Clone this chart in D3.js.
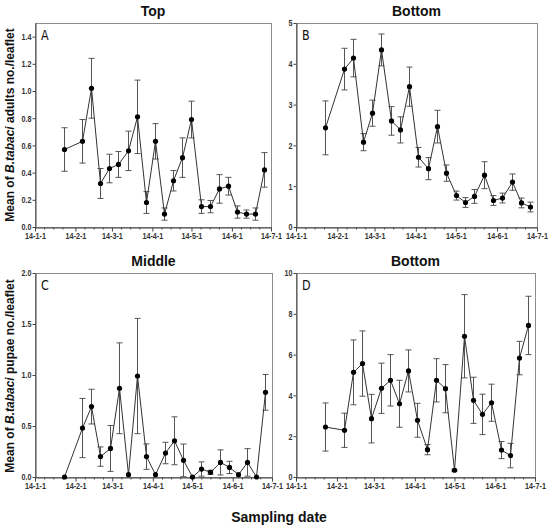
<!DOCTYPE html>
<html>
<head>
<meta charset="utf-8">
<script src="https://cdn.jsdelivr.net/npm/d3@7"></script>
<style>
  body { margin: 0; background: #fff; }
  svg { display: block; }
</style>
</head>
<body>
<div id="chart"></div>
<script>
// sampling dates (same for all four panels)
var sampleDates = ["2014-01-23", "2014-02-06", "2014-02-13", "2014-02-20", "2014-02-27",
  "2014-03-06", "2014-03-13", "2014-03-20", "2014-03-27", "2014-04-03", "2014-04-10",
  "2014-04-17", "2014-04-24", "2014-05-01", "2014-05-08", "2014-05-15", "2014-05-22",
  "2014-05-29", "2014-06-05", "2014-06-12", "2014-06-19", "2014-06-26"];

var monthTicks = ["2014-01-01", "2014-02-01", "2014-03-01", "2014-04-01",
  "2014-05-01", "2014-06-01", "2014-07-01"];
var monthLabels = ["14-1-1", "14-2-1", "14-3-1", "14-4-1", "14-5-1", "14-6-1", "14-7-1"];

// A: adults, top
var adultsTop = [0.57, 0.63, 1.02, 0.32, 0.43, 0.46, 0.56, 0.81, 0.18, 0.63, 0.095,
  0.34, 0.51, 0.79, 0.15, 0.15, 0.28, 0.30, 0.11, 0.095, 0.095, 0.42];
var adultsTopErr = [0.16, 0.16, 0.22, 0.11, 0.105, 0.095, 0.145, 0.27, 0.08, 0.13, 0.045,
  0.075, 0.145, 0.135, 0.05, 0.045, 0.105, 0.065, 0.045, 0.03, 0.045, 0.127];

// B: adults, bottom
var adultsBottom = [2.43, 3.87, 4.14, 2.08, 2.79, 4.34, 2.60, 2.38, 3.44, 1.71, 1.43,
  2.46, 1.32, 0.77, 0.60, 0.75, 1.27, 0.65, 0.71, 1.10, 0.59, 0.49];
var adultsBottomErr = [0.66, 0.51, 0.46, 0.21, 0.32, 0.39, 0.35, 0.32, 0.48, 0.24, 0.27,
  0.40, 0.20, 0.11, 0.12, 0.17, 0.33, 0.12, 0.12, 0.20, 0.12, 0.12];

// C: pupae, middle
var pupaeMiddle = [0.0, 0.48, 0.69, 0.20, 0.28, 0.87, 0.023, 0.99, 0.20, 0.023, 0.235,
  0.355, 0.163, 0.0, 0.078, 0.046, 0.143, 0.094, 0.023, 0.143, 0.0, 0.83];
var pupaeMiddleErr = [0, 0.29, 0.17, 0.095, 0.225, 0.445, 0, 0.565, 0.125, 0, 0.105,
  0.235, 0.16, 0, 0.07, 0.02, 0.123, 0.06, 0, 0.135, 0, 0.175];

// D: pupae, bottom
var pupaeBottom = [2.45, 2.29, 5.13, 5.56, 2.86, 4.35, 4.74, 3.59, 5.20, 2.78, 1.34,
  4.74, 4.33, 0.33, 6.90, 3.76, 3.07, 3.64, 1.32, 1.05, 5.83, 7.43];
var pupaeBottomErr = [1.18, 0.84, 1.59, 1.6, 1.19, 1.23, 1.26, 1.15, 1.03, 0.83, 0.25,
  1.06, 1.18, 0.05, 2.04, 1.13, 0.99, 0.91, 0.42, 0.6, 0.82, 1.43];

var yTicksA = [0, 0.2, 0.4, 0.6, 0.8, 1.0, 1.2, 1.4];
var yTicksB = [0, 1, 2, 3, 4, 5];
var yTicksC = [0, 0.5, 1.0, 1.5, 2.0];
var yTicksD = [0, 2, 4, 6, 8, 10];

var W = 548, H = 530;
var parse = d3.timeParse("%Y-%m-%d");
var dates = sampleDates.map(parse);
var months = monthTicks.map(parse);

var panels = [
  {letter: "A", title: "Top", vals: adultsTop, err: adultsTopErr, ymax: 1.5, yt: yTicksA, fmt: ".1f",
   left: 35, right: 271, top: 23, bottom: 227},
  {letter: "B", title: "Bottom", vals: adultsBottom, err: adultsBottomErr, ymax: 5, yt: yTicksB, fmt: "d",
   left: 296, right: 537, top: 23, bottom: 227},
  {letter: "C", title: "Middle", vals: pupaeMiddle, err: pupaeMiddleErr, ymax: 2, yt: yTicksC, fmt: ".1f",
   left: 35, right: 272, top: 273, bottom: 477},
  {letter: "D", title: "Bottom", vals: pupaeBottom, err: pupaeBottomErr, ymax: 10, yt: yTicksD, fmt: "d",
   left: 296, right: 535, top: 273, bottom: 477}
];

var svg = d3.select("#chart").append("svg")
    .attr("width", W)
    .attr("height", H);

var tickFont = "'Liberation Sans', Arial, sans-serif";

// minor ticks on x: roughly weekly inside each month
var minor = [];
months.slice(0, -1).forEach(function(m) {
  [8, 15, 22].forEach(function(d) {
    minor.push(new Date(m.getFullYear(), m.getMonth(), d));
  });
});

// narrow bold tick labels (squeezed horizontally)
function styleTicks(sel) {
  sel.attr("font-family", tickFont)
     .attr("font-weight", "bold")
     .attr("font-size", "9px")
     .attr("transform", "scale(0.8,1)")
     .attr("fill", "#333");
}

panels.forEach(function(p) {
  var x = d3.scaleTime()
      .domain([months[0], months[months.length - 1]])
      .range([p.left, p.right]);
  var y = d3.scaleLinear()
      .domain([0, p.ymax])
      .range([p.bottom, p.top]);

  var g = svg.append("g");

  // frame
  g.append("rect")
      .attr("x", p.left + 0.5)
      .attr("y", p.top + 0.5)
      .attr("width", p.right - p.left)
      .attr("height", p.bottom - p.top)
      .attr("fill", "none")
      .attr("stroke", "#8c8c8c")
      .attr("stroke-width", 1);

  // minor x ticks
  g.append("g")
      .attr("transform", "translate(0," + (p.bottom + 0.5) + ")")
      .call(d3.axisBottom(x).tickValues(minor).tickSize(2).tickFormat(""))
      .call(function(a) { a.select(".domain").remove(); })
      .selectAll("line").attr("stroke", "#444");

  var xa = g.append("g")
      .attr("transform", "translate(0," + (p.bottom + 0.5) + ")")
      .call(d3.axisBottom(x)
        .tickValues(months)
        .tickSize(4)
        .tickSizeOuter(0)
        .tickPadding(1)
        .tickFormat(function(d, i) { return monthLabels[i]; }));
  xa.select(".domain").attr("stroke", "#444");
  xa.selectAll("line").attr("stroke", "#444");
  xa.selectAll("text").call(styleTicks);

  var ya = g.append("g")
      .attr("transform", "translate(" + (p.left + 0.5) + ",0)")
      .call(d3.axisLeft(y)
        .tickValues(p.yt)
        .tickSize(3)
        .tickSizeOuter(0)
        .tickPadding(2)
        .tickFormat(d3.format(p.fmt)));
  ya.select(".domain").attr("stroke", "#444");
  ya.selectAll("line").attr("stroke", "#444");
  ya.selectAll("text").call(styleTicks);

  // error bars
  var eb = g.append("g").attr("stroke", "#555").attr("stroke-width", 1);
  p.vals.forEach(function(v, i) {
    var e = p.err[i];
    if (!e) return;
    var cx = Math.round(x(dates[i])) + 0.5;
    var lo = Math.max(0, v - e);
    eb.append("line").attr("x1", cx).attr("x2", cx).attr("y1", y(v + e)).attr("y2", y(lo));
    eb.append("line").attr("x1", cx - 3).attr("x2", cx + 3).attr("y1", y(v + e)).attr("y2", y(v + e));
    if (v - e > 0)
      eb.append("line").attr("x1", cx - 3).attr("x2", cx + 3).attr("y1", y(lo)).attr("y2", y(lo));
  });

  var line = d3.line()
      .x(function(d, i) { return Math.round(x(dates[i])) + 0.5; })
      .y(function(d) { return y(d); });

  g.append("path")
      .datum(p.vals)
      .attr("fill", "none")
      .attr("stroke", "#333")
      .attr("stroke-width", 1)
      .attr("d", line);

  g.selectAll("circle.pt")
      .data(p.vals)
      .enter().append("circle")
      .attr("class", "pt")
      .attr("cx", function(d, i) { return Math.round(x(dates[i])) + 0.5; })
      .attr("cy", function(d) { return y(d); })
      .attr("r", 2.6)
      .attr("fill", "#000");

  // panel letter
  g.append("text")
      .attr("transform", "translate(" + (p.left + 6) + "," + (p.top + 17) + ") scale(0.8,1)")
      .attr("font-family", "'DejaVu Sans', sans-serif")
      .attr("font-size", "14px")
      .attr("fill", "#111")
      .text(p.letter);

  // title
  g.append("text")
      .attr("x", (p.left + p.right) / 2)
      .attr("y", p.top - 7)
      .attr("text-anchor", "middle")
      .attr("font-family", "'Liberation Sans', Arial, sans-serif")
      .attr("font-weight", "bold")
      .attr("font-size", "14px")
      .attr("fill", "#111")
      .text(p.title);
});

// y axis titles
function yTitle(cy, word) {
  var t = svg.append("text")
      .attr("transform", "translate(14," + cy + ") rotate(-90)")
      .attr("text-anchor", "middle")
      .attr("font-family", "'Liberation Sans', Arial, sans-serif")
      .attr("font-weight", "bold")
      .attr("font-size", "12px")
      .attr("fill", "#111");
  t.append("tspan").text("Mean of ");
  t.append("tspan").attr("font-style", "italic").text("B.tabaci");
  t.append("tspan").text(" " + word + " no./leaflet");
}
yTitle(125, "adults");
yTitle(376, "pupae");

svg.append("text")
    .attr("x", 279)
    .attr("y", 522)
    .attr("text-anchor", "middle")
    .attr("font-family", "'Liberation Sans', Arial, sans-serif")
    .attr("font-weight", "bold")
    .attr("font-size", "14px")
    .attr("fill", "#111")
    .text("Sampling date");
</script>
</body>
</html>
